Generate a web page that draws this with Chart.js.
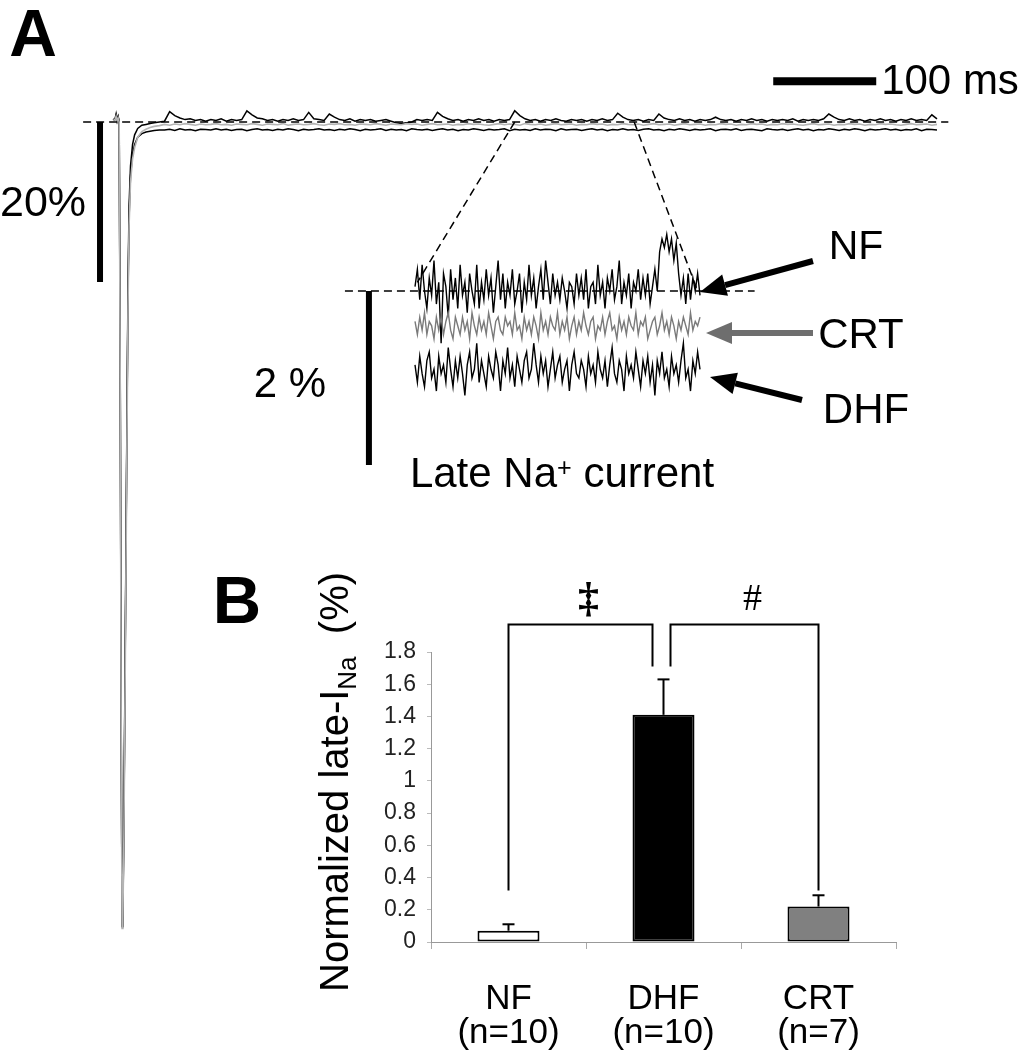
<!DOCTYPE html>
<html>
<head>
<meta charset="utf-8">
<script src="https://cdn.jsdelivr.net/npm/chart.js@4"></script>
<style>
body { margin: 0; background: #fff; }
#page { position: relative; width: 1018px; height: 1050px; overflow: hidden; font-family: "Liberation Sans", Arial, sans-serif; color: #000; background: #fff; }
#page canvas { position: absolute; }
.lbl { position: absolute; transform: translate(-50%, -50%); white-space: nowrap; line-height: 1; }
.sup { position: relative; top: -0.45em; font-size: 0.6em; }
.sub { position: relative; top: 0.3em; font-size: 0.65em; }
</style>
</head>
<body>
<div id="page">
  <canvas id="traceCanvas" width="1018" height="1050" style="left:0;top:0"></canvas>
  <canvas id="insetCanvas" width="1018" height="1050" style="left:0;top:0"></canvas>
  <canvas id="barCanvas" width="658" height="490" style="left:360px;top:560px"></canvas>

  <div class="lbl" style="left:33px;top:33px;font-size:66px;font-weight:bold">A</div>
  <div class="lbl" style="left:237px;top:599px;font-size:67px;font-weight:bold">B</div>
  <div class="lbl" style="left:43px;top:201px;font-size:43px">20%</div>
  <div class="lbl" style="left:950px;top:80px;font-size:42px">100 ms</div>
  <div class="lbl" style="left:290px;top:383px;font-size:42px">2 %</div>
  <div class="lbl" style="left:562px;top:473px;font-size:42px">Late Na<span class="sup">+</span> current</div>
  <div class="lbl" style="left:856px;top:245px;font-size:41px">NF</div>
  <div class="lbl" style="left:861px;top:334px;font-size:42px">CRT</div>
  <div class="lbl" style="left:866px;top:409px;font-size:42px">DHF</div>
  <div class="lbl" style="left:334px;top:782px;font-size:40px;transform:translate(-50%,-50%) rotate(-90deg)">Normalized late-I<span class="sub">Na</span>&nbsp; (%)</div>
</div>

<script>
// ---- panel A: whole-cell traces (% of peak), time in ms ----
var transientTimes = [0, 2, 3, 4, 5, 6, 7, 8, 8.8, 9.6, 10.6, 11.6, 12.6, 13.6, 14.6, 15.6, 17, 19, 21, 24, 28, 32, 36, 40, 45];
var nfTransient  = [0.3, 0.4, 1.0, 0.2, 0.7, 0.1, -30, -76, -100.5, -99, -87, -70, -53, -36, -20, -10.5, -5.5, -2.8, -1.6, -0.8, -0.4, -0.3, -0.2, -0.1, 0.0];
var crtTransient = [0.2, 0.3, 0.7, 0.1, 0.5, 0.0, -32, -78, -100.8, -99.5, -89, -73, -56, -39, -23, -13, -7.5, -4.6, -3.2, -1.9, -1.2, -0.9, -0.7, -0.55, -0.45];
var dhfTransient = [0.2, 0.3, 0.8, 0.1, 0.6, 0.0, -31, -77, -100.6, -99.2, -88, -71, -54, -37, -21.5, -12, -6.8, -4.0, -2.8, -1.9, -1.45, -1.25, -1.15, -1.05, -1.0];

// steady part, sampled every 5 ms from 50 ms
var PLATEAU_START = 50;
var PLATEAU_DT = 5;
var nfPlateau = [
  0.1, 1.3, 0.8, 0.5, 0.3, 0.4, 0.2, 0.3, 0.1, 0.3,
  0.2, 0.4, 0.1, 0.3, 0.2, 0.3, 1.4, 0.9, 0.5, 0.4,
  0.2, 0.3, 0.1, 0.3, 0.2, 0.4, 0.2, 0.3, 1.2, 0.4,
  0.3, 0.2, 1.0, 0.6, 0.3, 0.2, 0.4, 0.1, 0.3, 0.2,
  0.3, 0.1, 0.2, 0.3, 0.1, -0.1, -0.2, -0.1, 0.0, 0.3,
  0.2, 0.3, 0.2, 1.2, 0.7, 0.4, 0.2, 0.3, 0.1, 0.3,
  0.2, 0.4, 0.2, 0.3, 0.1, 0.3, 0.2, 0.3, 1.4, 0.8,
  0.4, 0.2, 0.3, 0.1, 0.3, 0.2, 0.4, 0.2, 0.1, 0.3,
  0.2, 0.3, 0.1, 0.3, 0.2, 0.4, 0.2, 0.3, 1.1, 0.6,
  0.3, 0.2, 0.3, 0.1, 0.3, 0.2, 1.0, 0.5, 0.3, 0.2,
  0.4, 0.2, 0.3, 0.1, 0.3, 0.2, 0.3, 0.6, 0.3, 0.2,
  0.3, 0.1, 0.3, 0.2, 0.4, 0.2, 0.3, 0.1, 0.3, 0.2,
  0.3, 0.2, 0.4, 0.1, 0.3, 0.2, 0.3, 0.2, 0.4, 1.0,
  0.6, 0.3, 0.2, 0.4, 0.2, 0.3, 0.1, 0.3, 0.2, 0.4,
  0.2, 0.3, 0.1, 0.3, 0.2, 0.4, 0.2, 0.3, 0.2, 0.9,
  0.4
];
var crtPlateau = [
  -0.3, -0.4, -0.25, -0.35, -0.2, -0.3, -0.4, -0.25, -0.35, -0.3,
  -0.2, -0.35, -0.3, -0.4, -0.25, -0.3, -0.35, -0.2, -0.3, -0.4,
  -0.25, -0.3, -0.35, -0.2, -0.4, -0.3, -0.25, -0.35, -0.3, -0.2,
  -0.35, -0.4, -0.25, -0.3, -0.2, -0.35, -0.3, -0.4, -0.25, -0.3,
  -0.35, -0.2, -0.3, -0.4, -0.25, -0.3, -0.35, -0.2, -0.3, -0.25,
  -0.4, -0.3, -0.2, -0.35, -0.3, -0.25, -0.4, -0.3, -0.35, -0.2,
  -0.3, -0.25, -0.35, -0.4, -0.3, -0.2, -0.35, -0.25, -0.3, -0.4,
  -0.2, -0.3, -0.35, -0.25, -0.4, -0.3, -0.2, -0.35, -0.3, -0.25,
  -0.4, -0.3, -0.35, -0.2, -0.3, -0.25, -0.4, -0.3, -0.35, -0.2,
  -0.3, -0.35, -0.25, -0.4, -0.3, -0.2, -0.35, -0.3, -0.25, -0.4,
  -0.3, -0.2, -0.35, -0.3, -0.25, -0.4, -0.3, -0.35, -0.2, -0.3,
  -0.25, -0.4, -0.3, -0.35, -0.2, -0.3, -0.25, -0.4, -0.3, -0.35,
  -0.2, -0.3, -0.25, -0.35, -0.4, -0.3, -0.2, -0.35, -0.3, -0.25,
  -0.4, -0.3, -0.35, -0.2, -0.3, -0.25, -0.4, -0.3, -0.35, -0.2,
  -0.3, -0.25, -0.35, -0.4, -0.3, -0.2, -0.35, -0.3, -0.25, -0.4,
  -0.3
];
var dhfPlateau = [
  -1.0, -0.9, -1.05, -0.85, -1.0, -0.95, -1.1, -0.9, -0.95, -1.0,
  -0.85, -1.0, -0.9, -1.05, -0.95, -0.9, -1.1, -0.95, -0.85, -1.0,
  -0.95, -1.05, -0.9, -1.0, -0.85, -0.95, -1.1, -0.9, -1.0, -0.95,
  -0.85, -1.0, -0.95, -1.05, -0.9, -1.0, -0.85, -0.95, -1.1, -0.9,
  -1.0, -0.95, -0.85, -1.05, -0.9, -1.0, -0.95, -1.1, -0.85, -0.95,
  -1.0, -0.9, -1.05, -0.95, -0.85, -1.0, -0.9, -1.1, -0.95, -1.0,
  -0.85, -0.95, -1.05, -0.9, -1.0, -0.95, -0.85, -1.1, -0.9, -1.0,
  -0.95, -1.05, -0.85, -1.0, -0.9, -0.95, -1.1, -0.85, -1.0, -0.95,
  -0.9, -1.05, -0.95, -0.85, -1.0, -0.9, -1.1, -0.95, -1.0, -0.85,
  -1.0, -0.95, -1.05, -0.9, -0.85, -1.0, -0.95, -1.1, -0.9, -1.0,
  -0.85, -0.95, -1.05, -0.9, -1.0, -0.95, -0.85, -1.1, -0.95, -0.9,
  -1.0, -0.85, -1.05, -0.95, -0.9, -1.0, -1.1, -0.85, -0.95, -1.0,
  -0.9, -1.05, -0.95, -0.85, -1.0, -0.9, -1.1, -0.95, -1.0, -0.85,
  -0.95, -1.05, -0.9, -1.0, -0.85, -0.95, -1.1, -0.9, -1.0, -0.95,
  -0.85, -1.0, -0.9, -1.05, -0.95, -1.0, -0.85, -1.1, -0.9, -0.95,
  -1.0
];

// ---- inset: late current, sampled every 1 ms ----
var INSET_DT = 1;
var nfLate = [
  0.05, 0.25, -0.1, 0.3, 0.0, -0.2, 0.15, -0.05, 0.35, -0.15,
  0.1, -0.6, 0.2, 0.05, -0.3, 0.25, -0.1, 0.15, -0.2, 0.3,
  -0.05, 0.1, -0.25, 0.2, 0.0, -0.15, 0.3, -0.2, 0.1, -0.1,
  0.25, -0.05, 0.15, -0.25, 0.05, 0.35, -0.1, 0.2, -0.2, 0.1,
  -0.05, 0.25, -0.15, 0.0, 0.2, -0.25, 0.1, -0.1, 0.3, -0.05,
  0.15, -0.2, 0.05, 0.25, -0.1, 0.35, 0.1, -0.15, 0.2, -0.05,
  0.1, -0.1, 0.15, 0.0, -0.2, 0.1, 0.05, -0.15, 0.2, -0.05,
  0.15, -0.1, 0.25, -0.2, 0.05, 0.1, -0.15, 0.3, -0.05, 0.1,
  -0.2, 0.15, 0.0, 0.25, -0.1, 0.05, 0.35, -0.15, 0.1, -0.05,
  0.2, -0.2, 0.1, 0.0, 0.25, -0.1, 0.15, -0.05, 0.2, -0.15,
  0.05, 0.25, 0.0, 0.45, 0.6, 0.5, 0.65, 0.45, 0.6, 0.35,
  0.55, 0.2, -0.05, 0.15, -0.15, 0.2, -0.1, 0.15, 0.0, 0.2,
  -0.05
];
var crtLate = [
  -0.35, -0.5, -0.3, -0.45, -0.25, -0.5, -0.35, -0.4, -0.55, -0.3,
  -0.45, -0.3, -0.5, -0.35, -0.25, -0.45, -0.55, -0.3, -0.4, -0.5,
  -0.3, -0.45, -0.35, -0.55, -0.25, -0.4, -0.5, -0.3, -0.45, -0.35,
  -0.5, -0.25, -0.4, -0.55, -0.35, -0.3, -0.45, -0.5, -0.3, -0.4,
  -0.35, -0.5, -0.25, -0.45, -0.4, -0.55, -0.3, -0.45, -0.35, -0.5,
  -0.3, -0.4, -0.55, -0.25, -0.45, -0.35, -0.5, -0.3, -0.4, -0.45,
  -0.25, -0.5, -0.35, -0.45, -0.3, -0.55, -0.4, -0.3, -0.5, -0.35,
  -0.45, -0.25, -0.4, -0.5, -0.35, -0.3, -0.55, -0.4, -0.45, -0.3,
  -0.5, -0.35, -0.25, -0.45, -0.4, -0.55, -0.3, -0.45, -0.35, -0.5,
  -0.3, -0.4, -0.45, -0.25, -0.5, -0.35, -0.4, -0.3, -0.55, -0.45,
  -0.35, -0.3, -0.5, -0.4, -0.25, -0.45, -0.35, -0.5, -0.3, -0.4,
  -0.55, -0.35, -0.45, -0.3, -0.4, -0.5, -0.25, -0.45, -0.35, -0.4,
  -0.3
];
var dhfLate = [
  -0.85, -1.05, -0.75, -0.95, -1.1, -0.8, -0.7, -1.0, -0.9, -1.15,
  -0.75, -0.95, -0.85, -1.05, -0.65, -0.9, -1.1, -0.8, -1.0, -0.75,
  -0.95, -1.2, -0.85, -0.7, -1.0, -0.9, -0.6, -1.05, -0.8, -0.95,
  -1.1, -0.75, -0.9, -1.0, -0.7, -0.85, -1.15, -0.8, -0.95, -0.65,
  -1.0, -0.85, -1.1, -0.75, -0.9, -1.05, -0.8, -0.7, -1.0, -0.9,
  -0.6, -0.85, -1.05, -0.75, -0.95, -0.8, -1.1, -0.9, -0.7, -1.0,
  -0.85, -0.75, -1.05, -0.9, -0.8, -1.15, -0.85, -0.7, -0.95, -1.0,
  -0.8, -0.9, -1.1, -0.75, -0.95, -0.85, -1.05, -0.7, -0.9, -1.0,
  -0.8, -1.1, -0.85, -0.65, -0.95, -1.05, -0.8, -0.9, -1.15, -0.75,
  -0.95, -0.85, -1.0, -0.7, -0.9, -1.1, -0.8, -0.95, -0.75, -1.05,
  -0.85, -1.2, -0.8, -0.95, -0.7, -1.0, -0.9, -1.1, -0.75, -0.95,
  -0.85, -1.05, -0.8, -0.6, -1.0, -0.9, -1.15, -0.8, -0.95, -0.7,
  -0.9
];

// ---- panel B: bars ----
var categories = ['NF', 'DHF', 'CRT'];
var groupSizes = ['(n=10)', '(n=10)', '(n=7)'];
var lateNaMean = [0.07, 1.41, 0.22];
var lateNaSem = [0.04, 0.22, 0.07];
var barColors = ['#ffffff', '#000000', '#808080'];
var yTickValues = [0, 0.2, 0.4, 0.6, 0.8, 1, 1.2, 1.4, 1.6, 1.8];
var yTickLabels = ['0', '0.2', '0.4', '0.6', '0.8', '1', '1.2', '1.4', '1.6', '1.8'];
var brackets = [
    { from: 0, to: 1, legFrom: 0.32, legTo: 1.71, top: 1.97, shiftFrom: 0, shiftTo: -11, mark: '\u2021' },
    { from: 1, to: 2, legFrom: 1.71, legTo: 0.32, top: 1.97, shiftFrom: 7, shiftTo: 0, mark: '#' }
];

function tracePoints(transient, plateau) {
    var pts = transientTimes.map(function (t, i) { return { x: t, y: transient[i] }; });
    plateau.forEach(function (v, i) {
        pts.push({ x: PLATEAU_START + i * PLATEAU_DT, y: v });
    });
    return pts;
}

function samplePoints(values) {
    return values.map(function (v, i) { return { x: i * INSET_DT, y: v }; });
}

function px(chart, x, y) {
    return [chart.scales.x.getPixelForValue(x), chart.scales.y.getPixelForValue(y)];
}

function line(ctx, a, b, width, color, dash) {
    ctx.save();
    ctx.strokeStyle = color;
    ctx.lineWidth = width;
    ctx.setLineDash(dash || []);
    ctx.beginPath();
    ctx.moveTo(a[0], a[1]);
    ctx.lineTo(b[0], b[1]);
    ctx.stroke();
    ctx.restore();
}

function arrow(ctx, x1, y1, x2, y2, color) {
    var ang = Math.atan2(y2 - y1, x2 - x1);
    var head = 26, half = 11;
    var bx = x2 - head * Math.cos(ang), by = y2 - head * Math.sin(ang);
    line(ctx, [x1, y1], [bx, by], 6, color);
    ctx.save();
    ctx.fillStyle = color;
    ctx.beginPath();
    ctx.moveTo(x2, y2);
    ctx.lineTo(bx + half * Math.sin(ang), by - half * Math.cos(ang));
    ctx.lineTo(bx - half * Math.sin(ang), by + half * Math.cos(ang));
    ctx.closePath();
    ctx.fill();
    ctx.restore();
}

var plainLineOptions = function (xmin, xmax, ymin, ymax) {
    return {
        responsive: false,
        animation: false,
        devicePixelRatio: 1,
        layout: { padding: 0 },
        elements: { point: { radius: 0 }, line: { tension: 0 } },
        plugins: { legend: { display: false }, tooltip: { enabled: false } },
        scales: {
            x: { type: 'linear', display: false, min: xmin, max: xmax },
            y: { type: 'linear', display: false, min: ymin, max: ymax }
        }
    };
};

var insetDecor = {
    id: 'insetDecor',
    afterDatasetsDraw: function (chart) {
        var ctx = chart.ctx;
        line(ctx, px(chart, -29.5, 0), px(chart, 143, 0), 1.5, '#000', [8, 5]);
        line(ctx, px(chart, -19.4, 0), px(chart, -19.4, -2), 6, '#000');
        arrow(ctx, 813, 261, 700, 292, '#000');
        arrow(ctx, 813, 333, 706, 333, '#6e6e6e');
        arrow(ctx, 802, 400, 710, 377, '#000');
    }
};

var insetChart = new Chart(document.getElementById('insetCanvas'), {
    type: 'line',
    data: {
        datasets: [
            { data: samplePoints(dhfLate), borderColor: '#000', borderWidth: 1.4 },
            { data: samplePoints(crtLate), borderColor: '#7a7a7a', borderWidth: 1.4 },
            { data: samplePoints(nfLate), borderColor: '#000', borderWidth: 1.4 }
        ]
    },
    options: plainLineOptions(-415 / 2.375, 603 / 2.375, -759 / 87, 291 / 87),
    plugins: [insetDecor]
});

var traceDecor = {
    id: 'traceDecor',
    afterDatasetsDraw: function (chart) {
        var ctx = chart.ctx;
        line(ctx, px(chart, -29, 0), px(chart, 811, 0), 1.5, '#000', [8, 5]);
        line(ctx, px(chart, -12.6, 0), px(chart, -12.6, -20), 6, '#000');
        line(ctx, px(chart, 641, 5.1), px(chart, 741, 5.1), 8, '#000');
        line(ctx, px(chart, 390, 0), px(insetChart, 1, 0.1), 1.5, '#000', [8, 5]);
        line(ctx, px(chart, 506, 0), px(insetChart, 119, 0), 1.5, '#000', [8, 5]);
    }
};

var traceChart = new Chart(document.getElementById('traceCanvas'), {
    type: 'line',
    data: {
        datasets: [
            { data: tracePoints(crtTransient, crtPlateau), borderColor: '#b4b4b4', borderWidth: 1.6 },
            { data: tracePoints(dhfTransient, dhfPlateau), borderColor: '#000', borderWidth: 1.5 },
            { data: tracePoints(nfTransient, nfPlateau), borderColor: '#000', borderWidth: 1.5 }
        ]
    },
    options: plainLineOptions(-113 / 1.03, 905 / 1.03, -928 / 8, 122 / 8),
    plugins: [traceDecor]
});

var barDecor = {
    id: 'barDecor',
    afterDatasetsDraw: function (chart) {
        var ctx = chart.ctx;
        var xs = chart.scales.x, ys = chart.scales.y;
        lateNaMean.forEach(function (m, i) {
            var cx = xs.getPixelForValue(i);
            var y0 = ys.getPixelForValue(m), y1 = ys.getPixelForValue(m + lateNaSem[i]);
            line(ctx, [cx, y0], [cx, y1], 2, '#000');
            line(ctx, [cx - 6, y1], [cx + 6, y1], 2, '#000');
        });
        brackets.forEach(function (b) {
            var xa = xs.getPixelForValue(b.from) + b.shiftFrom;
            var xb = xs.getPixelForValue(b.to) + b.shiftTo;
            var yt = ys.getPixelForValue(b.top);
            ctx.save();
            ctx.strokeStyle = '#000';
            ctx.lineWidth = 2;
            ctx.beginPath();
            ctx.moveTo(xa, ys.getPixelForValue(b.legFrom));
            ctx.lineTo(xa, yt);
            ctx.lineTo(xb, yt);
            ctx.lineTo(xb, ys.getPixelForValue(b.legTo));
            ctx.stroke();
            ctx.fillStyle = '#000';
            ctx.textAlign = 'center';
            ctx.textBaseline = 'middle';
            ctx.font = (b.mark === '#' ? '38px' : 'bold 42px') + ' "Liberation Serif", serif';
            ctx.fillText(b.mark, (xa + xb) / 2 + 8, ys.getPixelForValue(2.12));
            ctx.restore();
        });
    }
};

var barChart = new Chart(document.getElementById('barCanvas'), {
    type: 'bar',
    data: {
        labels: categories.map(function (c, i) { return [c, groupSizes[i]]; }),
        datasets: [{
            data: lateNaMean,
            backgroundColor: barColors,
            borderColor: '#000',
            borderWidth: 2,
            borderSkipped: false,
            categoryPercentage: 1,
            barPercentage: 0.4
        }]
    },
    options: {
        responsive: false,
        animation: false,
        devicePixelRatio: 1,
        layout: { padding: { top: 92, right: 122, left: 0, bottom: 0 } },
        plugins: { legend: { display: false }, tooltip: { enabled: false } },
        scales: {
            x: {
                grid: { display: true, drawOnChartArea: false, tickLength: 7, color: '#aaa', offset: true },
                border: { display: true, color: '#999' },
                ticks: { color: '#000', padding: 33, font: { family: 'Liberation Sans', size: 35, lineHeight: 0.98 } },
                afterFit: function (scale) { scale.height = 108; }
            },
            y: {
                min: 0,
                max: 1.8,
                grid: { display: true, drawOnChartArea: false, tickLength: 4, color: '#bbb' },
                border: { display: true, color: '#999' },
                ticks: {
                    stepSize: 0.2,
                    color: '#222',
                    padding: 11,
                    font: { family: 'Liberation Sans', size: 23 },
                    callback: function (value, index) { return yTickLabels[index]; }
                },
                afterFit: function (scale) { scale.width = 71; }
            }
        }
    },
    plugins: [barDecor]
});
</script>
</body>
</html>
